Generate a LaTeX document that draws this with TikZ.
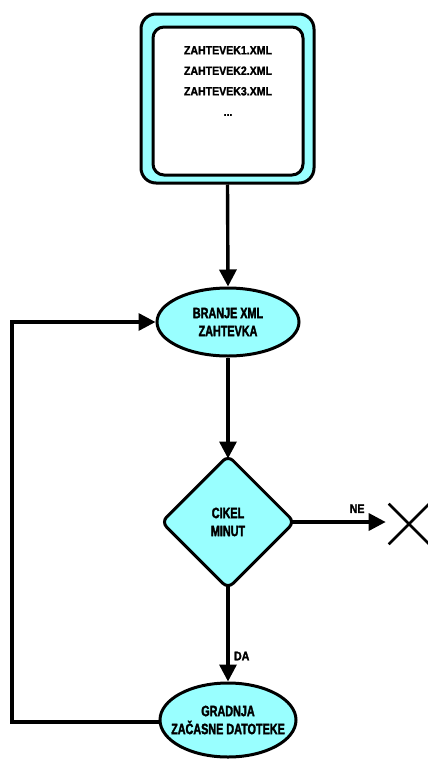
\documentclass[tikz,border=0pt]{standalone}
\usepackage{fontspec}
\setmainfont{Liberation Sans}
\newfontfamily\narrowbold{Liberation Sans}[FakeStretch=0.72,FakeBold=2]
\newfontfamily\labelbold{Liberation Sans}[FakeStretch=0.85,FakeBold=2]
\newfontfamily\filebold{Liberation Sans}[FakeStretch=0.88,FakeBold=1.6]
\usetikzlibrary{shapes.geometric,shapes.misc,arrows.meta}
\definecolor{flowcyan}{RGB}{153,255,255}
\tikzset{
  flowline/.style={line width=3.4pt},
  flowarrow/.style={flowline,-{Triangle[length=17pt,width=17pt]}},
  procnode/.style={ellipse,draw,line width=3pt,fill=flowcyan,
    inner xsep=-16pt,inner ysep=-8pt,
    align=center,font=\narrowbold\bfseries\fontsize{15}{18}\selectfont},
  decnode/.style={diamond,draw,line width=3pt,fill=flowcyan,inner sep=0pt,
    rounded corners=7pt,align=center,font=\narrowbold\bfseries\fontsize{15}{18}\selectfont},
  edgelabel/.style={font=\labelbold\bfseries\fontsize{12.5}{14}\selectfont}
}
\begin{document}
\begin{tikzpicture}[x=1pt,y=-1pt]
\useasboundingbox (0,0) rectangle (428,763);

% input files: double framed box
\node[draw,line width=3pt,fill=flowcyan,rounded corners=15pt,
      minimum width=173pt,minimum height=169pt,inner sep=0pt] (src) at (227.5,98.5) {};
\node[draw,line width=3pt,fill=white,rounded corners=11pt,
      minimum width=150pt,minimum height=148pt,inner sep=0pt] (srcin) at (228,101) {};
\node[align=center,font=\filebold\bfseries\fontsize{12}{20.5}\selectfont,inner sep=0pt]
      (files) at (228,81) {ZAHTEVEK1.XML\\ZAHTEVEK2.XML\\ZAHTEVEK3.XML\\...};

% process steps
\node[procnode,minimum width=142pt,minimum height=68pt] (read) at (228,322)
      {BRANJE XML\\ZAHTEVKA};
\node[decnode,minimum width=134pt,minimum height=134pt] (cikel) at (228,522)
      {CIKEL\\MINUT};
\node[procnode,minimum width=136pt,minimum height=74pt] (build) at (228,720)
      {GRADNJA\\ZAČASNE DATOTEKE};

% termination mark
\node[cross out,draw,line width=2.6pt,minimum size=38pt,inner sep=0pt] (stop) at (409,524) {};

% connectors (the diamond's rounded tips sit inside its anchors, hence the shortening)
\draw[flowarrow] (src.south) -- (read.north);
\draw[flowarrow,shorten >=-5pt] (read.south) -- (cikel.north);
\draw[flowarrow,shorten <=-5pt] (cikel.east) -- node[edgelabel,above,pos=0.68,yshift=4pt] (ne) {NE}
      ([xshift=-3pt]stop.west |- cikel.east);
\draw[flowarrow,shorten <=-5pt] (cikel.south) -- node[edgelabel,right,pos=0.72,xshift=1pt] (da) {DA} (build.north);
\coordinate (loop) at (12,722);
\draw[flowarrow] (build.west |- loop) -- (loop) |- (read.west);
\end{tikzpicture}
\end{document}
